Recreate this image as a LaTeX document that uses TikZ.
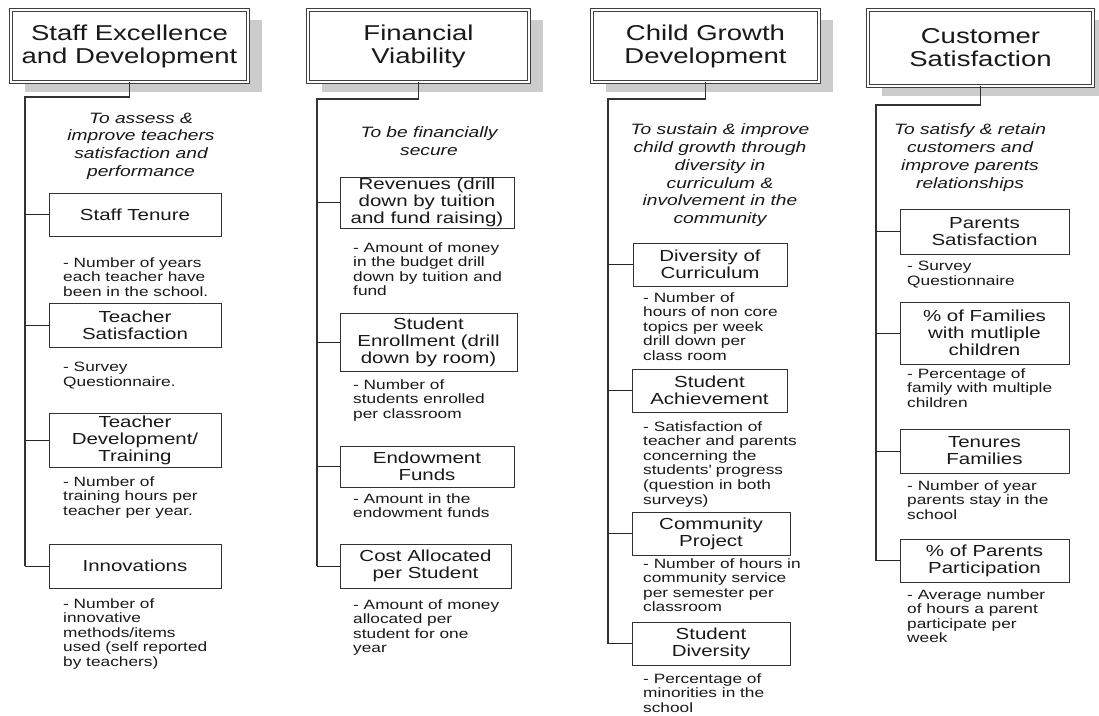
\documentclass[tikz,border=0pt]{standalone}
\usepackage{fontspec}
\setmainfont{Liberation Sans}[FakeStretch=1.28]
\usetikzlibrary{shadows}
\newcommand{\hdfont}{\fontsize{21.5}{23}\selectfont}
\newcommand{\bxfont}{\fontsize{16}{17}\selectfont}
\newcommand{\dsfont}{\fontsize{13.5}{14.6}\selectfont}
\newcommand{\objfont}{\fontsize{15}{17.8}\selectfont\itshape}
\definecolor{ink}{gray}{0.1}
\definecolor{shade}{gray}{0.8}
\newcommand{\kbox}[6]{\node[kpi, minimum width={(#4-#2)*1pt}, minimum height={(#5-#3)*1pt}] (#1) at ({(#2+#4)/2},{(#3+#5)/2}) {#6};}
\begin{document}
\begin{tikzpicture}[x=1pt,y=-1pt,
  head/.style={draw=black!75, double, double distance=2pt, line width=0.7pt, fill=white, align=center, font=\hdfont, text=ink, inner sep=0pt, drop shadow={shadow xshift=14pt, shadow yshift=-10pt, fill=shade, opacity=1}},
  kpi/.style={draw=black!80, line width=0.8pt, fill=white, align=center, font=\bxfont, text=ink, inner sep=0pt},
  desc/.style={anchor=north west, align=left, font=\dsfont, text=ink, inner sep=0pt},
  obj/.style={anchor=north, align=center, font=\objfont, text=ink, inner sep=0pt},
  trunk/.style={draw=black!80, line width=1.4pt},
  branch/.style={draw=black!85, line width=0.9pt},
]
\useasboundingbox[fill=white] (0,0) rectangle (1099,715);

% ---------- column 1
\node[head, minimum width=237pt, minimum height=72pt] (h1) at (129.5,46) {Staff Excellence\\and Development};
\node[obj] (o1) at (141,112.6) {To assess \&\\improve teachers\\satisfaction and\\performance};
\kbox{b1a}{49}{193}{221}{236}{Staff Tenure}
\node[desc] (d1a) at (63,257.1) {- Number of years\\each teacher have\\been in the school.};
\kbox{b1b}{49}{303}{221}{347}{Teacher\\Satisfaction}
\node[desc] (d1b) at (63,362.1) {- Survey\\Questionnaire.};
\kbox{b1c}{49}{413}{221}{467}{Teacher\\Development/\\Training}
\node[desc] (d1c) at (63,476.1) {- Number of\\training hours per\\teacher per year.};
\kbox{b1d}{49}{544}{221}{588}{Innovations}
\node[desc] (d1d) at (63,598.1) {- Number of\\innovative\\methods/items\\used (self reported\\by teachers)};
\coordinate (t1) at (25,97);
\draw[trunk] (h1.south) |- (t1) -- (t1 |- b1d.west);
\foreach \b in {b1a,b1b,b1c,b1d} \draw[branch] (t1 |- \b.west) -- (\b.west);

% ---------- column 2
\node[head, minimum width=221pt, minimum height=72pt] (h2) at (418.5,46) {Financial\\Viability};
\node[obj] (o2) at (429,126.6) {To be financially\\secure};
\kbox{b2a}{340}{177}{514}{228}{Revenues (drill\\down by tuition\\and fund raising)}
\node[desc] (d2a) at (353,242.1) {- Amount of money\\in the budget drill\\down by tuition and\\fund};
\kbox{b2b}{340}{313}{517}{371}{Student\\Enrollment (drill\\down by room)}
\node[desc] (d2b) at (353,379.1) {- Number of\\students enrolled\\per classroom};
\kbox{b2c}{340}{446}{514}{487}{Endowment\\Funds}
\node[desc] (d2c) at (353,493.1) {- Amount in the\\endowment funds};
\kbox{b2d}{340}{544}{511}{588}{Cost Allocated\\per Student}
\node[desc] (d2d) at (353,599.1) {- Amount of money\\allocated per\\student for one\\year};
\coordinate (t2) at (317,99);
\draw[trunk] (h2.south) |- (t2) -- (t2 |- b2d.west);
\foreach \b in {b2a,b2b,b2c,b2d} \draw[branch] (t2 |- \b.west) -- (\b.west);

% ---------- column 3
\node[head, minimum width=227pt, minimum height=72pt] (h3) at (705.5,46) {Child Growth\\Development};
\node[obj] (o3) at (720,123.6) {To sustain \& improve\\child growth through\\diversity in\\curriculum \&\\involvement in the\\community};
\kbox{b3a}{633}{243}{787}{286}{Diversity of\\Curriculum}
\node[desc] (d3a) at (643,292.1) {- Number of\\hours of non core\\topics per week\\drill down per\\class room};
\kbox{b3b}{632}{369}{787}{412}{Student\\Achievement}
\node[desc] (d3b) at (643,421.1) {- Satisfaction of\\teacher and parents\\concerning the\\students\textquotesingle{} progress\\(question in both\\surveys)};
\kbox{b3c}{632}{512}{790}{555}{Community\\Project}
\node[desc] (d3c) at (643,558.1) {- Number of hours in\\community service\\per semester per\\classroom};
\kbox{b3d}{632}{622}{790}{665}{Student\\Diversity}
\node[desc] (d3d) at (643,673.1) {- Percentage of\\minorities in the\\school};
\coordinate (t3) at (608,99);
\draw[trunk] (h3.south) |- (t3) -- (t3 |- b3d.west);
\foreach \b in {b3a,b3b,b3c,b3d} \draw[branch] (t3 |- \b.west) -- (\b.west);

% ---------- column 4
\node[head, minimum width=225pt, minimum height=76pt] (h4) at (980.5,48) {Customer\\Satisfaction};
\node[obj] (o4) at (970,123.6) {To satisfy \& retain\\customers and\\improve parents\\relationships};
\kbox{b4a}{900}{209}{1069}{254}{Parents\\Satisfaction}
\node[desc] (d4a) at (907,261.1) {- Survey\\Questionnaire};
\kbox{b4b}{900}{302}{1069}{364}{\% of Families\\with mutliple\\children}
\node[desc] (d4b) at (907,368.1) {- Percentage of\\family with multiple\\children};
\kbox{b4c}{900}{429}{1069}{473}{Tenures\\Families}
\node[desc] (d4c) at (907,480.1) {- Number of year\\parents stay in the\\school};
\kbox{b4d}{900}{539}{1069}{582}{\% of Parents\\Participation}
\node[desc] (d4d) at (907,589.1) {- Average number\\of hours a parent\\participate per\\week};
\coordinate (t4) at (876,105);
\draw[trunk] (h4.south) |- (t4) -- (t4 |- b4d.west);
\foreach \b in {b4a,b4b,b4c,b4d} \draw[branch] (t4 |- \b.west) -- (\b.west);
\end{tikzpicture}
\end{document}
